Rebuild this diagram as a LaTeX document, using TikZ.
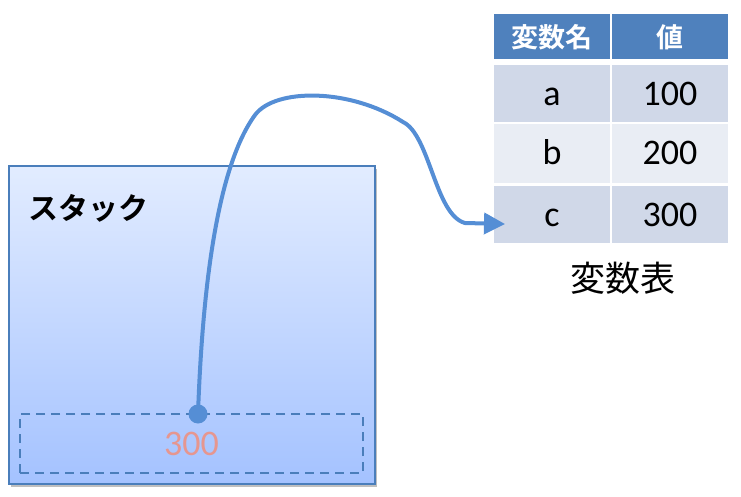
\documentclass[tikz,border=0pt]{standalone}
\usepackage{fontspec}
\setmainfont{Carlito}
\newfontfamily\jpfont{Noto Sans CJK JP}
\newfontfamily\jpbold{Noto Sans CJK JP Bold}
\usepackage{xcolor}
\definecolor{hdrblue}{RGB}{79,129,189}
\definecolor{rowdark}{RGB}{208,216,232}
\definecolor{rowlight}{RGB}{233,237,244}
\definecolor{stackedge}{RGB}{74,126,187}
\definecolor{stacktop}{RGB}{226,236,255}
\definecolor{stackbottom}{RGB}{164,194,255}
\definecolor{linkblue}{RGB}{85,142,213}
\definecolor{ghostred}{RGB}{230,150,143}
\usepackage{tikz}
\usetikzlibrary{arrows.meta}
\usetikzlibrary{shadows}
\newcommand{\widthcell}{116pt}
\tikzset{
    cell/.style={anchor=center, rectangle, inner sep=0pt, minimum width=\widthcell,
        text height=23pt, text depth=0pt, font=\fontsize{36}{36}\selectfont},
    hdr/.style={cell, fill=hdrblue, text=white, minimum height=45pt,
        text height=22pt, font=\jpbold\fontsize{27}{27}\selectfont},
    darkrow/.style={cell, fill=rowdark, minimum height=57pt},
    lightrow/.style={cell, fill=rowlight, minimum height=59pt},
    stackbox/.style={draw=stackedge, line width=2.4pt, top color=stacktop, bottom color=stackbottom,
        minimum width=366pt, minimum height=318pt,
        drop shadow={shadow xshift=2pt, shadow yshift=-3pt, fill=black, opacity=0.25}},
    slot/.style={draw=stackedge, line width=2.2pt, dash pattern=on 9pt off 6pt,
        minimum width=343pt, minimum height=59pt, text=ghostred, font=\fontsize{36}{36}\selectfont},
    refdot/.style={circle, fill=linkblue, inner sep=0pt, minimum size=19pt},
    link/.style={draw=linkblue, line width=4pt, -{Triangle[length=21pt, width=21pt]}}
}
\begin{document}
\begin{tikzpicture}[x=1pt, y=-1pt]
    \useasboundingbox (0,0) rectangle (741,497);

    % stack
    \node[stackbox] (stack) at (192,325) {};
    \node[anchor=west, font=\jpbold\fontsize{30}{30}\selectfont] (stack-title) at (25,208) {スタック};
    \node[slot] (slot) at (191.5,443.5) {300};
    \node[refdot] (ref) at (198,414) {};

    % variable table
    \node[hdr] (h-name) at (552,36.5) {変数名};
    \node[hdr] (h-val) at (670,36.5) {値};
    \node[darkrow] (a-name) at (552,94) {a};
    \node[darkrow] (a-val) at (670,94) {100};
    \node[lightrow] (b-name) at (552,153.5) {b};
    \node[lightrow] (b-val) at (670,153.5) {200};
    \node[darkrow] (c-name) at (552,214.5) {c};
    \node[darkrow] (c-val) at (670,214.5) {300};
    \node[font=\jpfont\fontsize{35}{35}\selectfont] (tbl-caption) at (623,278) {変数表};

    \coordinate (tip) at (505,224);
    \draw[link] (ref.center) .. controls (202,300) and (215,170) .. (255,115)
        .. controls (275,88) and (350,88) .. (403,122)
        .. controls (430,135) and (435,215) .. (465,223) -- (tip);
\end{tikzpicture}
\end{document}
